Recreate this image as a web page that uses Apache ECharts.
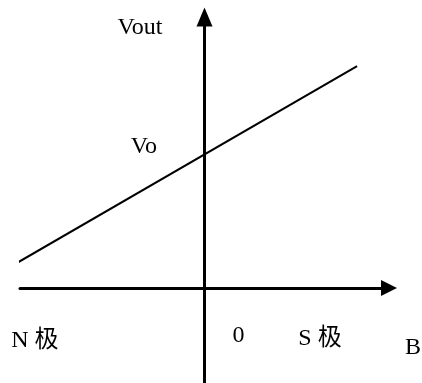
<!DOCTYPE html>
<html>
<head>
<meta charset="utf-8">
<script src="https://cdn.jsdelivr.net/npm/echarts@6/dist/echarts.min.js"></script>
<style>
html, body { margin: 0; padding: 0; background: #fff; }
#chart { width: 422px; height: 383px; }
</style>
</head>
<body>
<div id="chart"></div>
<script>
// 霍尔传感器输出 Vout 随磁场 B 变化
var bValues = [-10.16, 8.27];      // B 端点
var voutValues = [0.93, 8.19];     // Vout 端点
var voValue = 4.93;                // 与纵轴交点 Vo
var xLabelPos = [-9.19, 1.84, 6.26];
var xLabelText = ['N 极', '0', 'S 极'];
var xLabelKey = ['n', 'z', 's'];

var font = "'Liberation Serif', 'Noto Sans CJK SC', serif";

var lineData = [];
for (var i = 0; i < bValues.length; i++) {
  lineData.push([bValues[i], voutValues[i]]);
}

var chart = echarts.init(document.getElementById('chart'));
chart.setOption({
  backgroundColor: '#ffffff',
  animation: false,
  grid: { left: 20, right: 33, top: 17, bottom: 0, containLabel: false, outerBoundsMode: 'none' },
  xAxis: {
    type: 'value',
    min: -10,
    max: 10,
    name: 'B',
    nameLocation: 'end',
    nameGap: 16,
    nameTextStyle: {
      fontFamily: font, fontSize: 24, color: '#000',
      verticalAlign: 'top', lineHeight: 24, padding: [48, 0, 0, 0]
    },
    axisLine: {
      onZero: true,
      symbol: ['none', 'triangle'],
      symbolSize: [16, 16],
      lineStyle: { color: '#000', width: 3 }
    },
    axisTick: { show: false },
    splitLine: { show: false },
    axisLabel: {
      customValues: xLabelPos,
      margin: -60,
      fontFamily: font, fontSize: 24, color: '#000', lineHeight: 24,
      verticalAlign: 'top',
      formatter: function (v) {
        var idx = xLabelPos.indexOf(v);
        if (idx < 0) return '';
        return '{' + xLabelKey[idx] + '|' + xLabelText[idx] + '}';
      },
      rich: {
        n: { fontFamily: font, fontSize: 24, lineHeight: 24, padding: [11, 0, 0, 0] },
        z: { fontFamily: font, fontSize: 24, lineHeight: 24, padding: [1, 0, 0, 0] },
        s: { fontFamily: font, fontSize: 24, lineHeight: 24, padding: [8, 0, 0, 0] }
      }
    }
  },
  yAxis: {
    type: 'value',
    min: -3.5,
    max: 10,
    name: 'Vout',
    nameLocation: 'end',
    nameGap: -11,
    nameTextStyle: {
      fontFamily: font, fontSize: 24, color: '#000',
      align: 'right', verticalAlign: 'middle', lineHeight: 24,
      padding: [0, 42, 0, 0]
    },
    axisLine: {
      onZero: true,
      symbol: ['none', 'triangle'],
      symbolSize: [16, 19],
      lineStyle: { color: '#000', width: 3 }
    },
    axisTick: { show: false },
    splitLine: { show: false },
    axisLabel: {
      customValues: [voValue],
      margin: -137,
      fontFamily: font, fontSize: 24, color: '#000', lineHeight: 15,
      align: 'right',
      verticalAlign: 'bottom',
      formatter: function () { return 'Vo'; }
    }
  },
  series: [{
    type: 'line',
    data: lineData,
    showSymbol: false,
    symbol: 'none',
    clip: false,
    lineStyle: { color: '#000', width: 2 }
  }]
});
</script>
</body>
</html>
